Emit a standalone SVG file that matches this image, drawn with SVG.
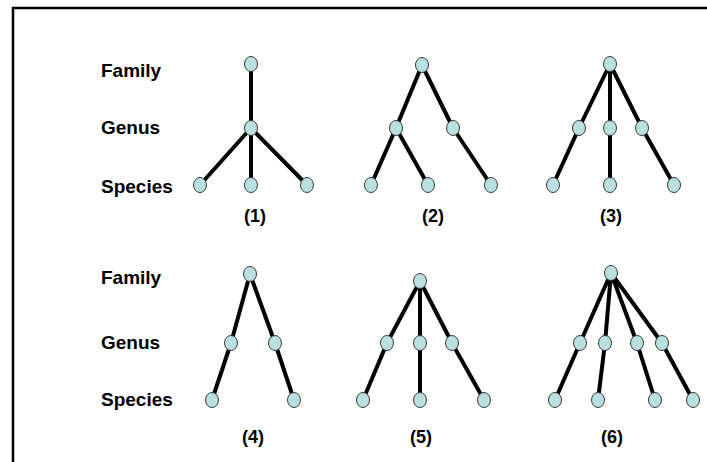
<svg xmlns="http://www.w3.org/2000/svg" width="707" height="462" viewBox="0 0 707 462">
<style>
.lbl{font-family:"Liberation Sans",Arial,sans-serif;font-weight:bold;font-size:19px;fill:#000}
.num{font-family:"Liberation Sans",Arial,sans-serif;font-weight:bold;font-size:18px;fill:#000;text-anchor:middle}
.e{stroke:#000;stroke-width:4;fill:none}
.n{fill:#b9dfe0;stroke:#3a3a3a;stroke-width:1}
</style>
<rect width="707" height="462" fill="#fff"/>
<path d="M13,462 V8 H707" fill="none" stroke="#000" stroke-width="2.5"/>
<g id="row-labels">
<text class="lbl" x="101" y="77">Family</text>
<text class="lbl" x="101" y="134">Genus</text>
<text class="lbl" x="101" y="193">Species</text>
<text class="lbl" x="101" y="284">Family</text>
<text class="lbl" x="101" y="349">Genus</text>
<text class="lbl" x="101" y="406">Species</text>
</g>
<g id="connectors">
<path class="e" d="M251,64 L251,128 M251,128 L200,185 M251,128 L251,185 M251,128 L307,185"/>
<path class="e" d="M422,65 L396,128 M422,65 L453,128 M396,128 L371,185 M396,128 L428,185 M453,128 L491,185"/>
<path class="e" d="M610,64 L579,128 M610,64 L610,128 M610,64 L642,128 M579,128 L553,185 M610,128 L610,185 M642,128 L674,185"/>
<path class="e" d="M250,274 L231,343 M250,274 L275,343 M231,343 L212,400 M275,343 L294,400"/>
<path class="e" d="M420,281 L387,343 M420,281 L420,343 M420,281 L452,343 M387,343 L363,400 M420,343 L420,400 M452,343 L484,400"/>
<path class="e" d="M611,273 L580,343 M611,273 L605,343 M611,273 L637,343 M611,273 L662,343 M580,343 L555,400 M605,343 L598,400 M637,343 L655,400 M662,343 L693,400"/>
</g>
<g id="tree1">
<ellipse class="n" cx="251" cy="64" rx="6.5" ry="7.5"/>
<ellipse class="n" cx="251" cy="128" rx="6.5" ry="7.5"/>
<ellipse class="n" cx="200" cy="185" rx="6.5" ry="7.5"/>
<ellipse class="n" cx="251" cy="185" rx="6.5" ry="7.5"/>
<ellipse class="n" cx="307" cy="185" rx="6.5" ry="7.5"/>
<text class="num" x="255" y="222">(1)</text>
</g>
<g id="tree2">
<ellipse class="n" cx="422" cy="65" rx="6.5" ry="7.5"/>
<ellipse class="n" cx="396" cy="128" rx="6.5" ry="7.5"/>
<ellipse class="n" cx="453" cy="128" rx="6.5" ry="7.5"/>
<ellipse class="n" cx="371" cy="185" rx="6.5" ry="7.5"/>
<ellipse class="n" cx="428" cy="185" rx="6.5" ry="7.5"/>
<ellipse class="n" cx="491" cy="185" rx="6.5" ry="7.5"/>
<text class="num" x="433" y="222">(2)</text>
</g>
<g id="tree3">
<ellipse class="n" cx="610" cy="64" rx="6.5" ry="7.5"/>
<ellipse class="n" cx="579" cy="128" rx="6.5" ry="7.5"/>
<ellipse class="n" cx="610" cy="128" rx="6.5" ry="7.5"/>
<ellipse class="n" cx="642" cy="128" rx="6.5" ry="7.5"/>
<ellipse class="n" cx="553" cy="185" rx="6.5" ry="7.5"/>
<ellipse class="n" cx="610" cy="185" rx="6.5" ry="7.5"/>
<ellipse class="n" cx="674" cy="185" rx="6.5" ry="7.5"/>
<text class="num" x="611" y="222">(3)</text>
</g>
<g id="tree4">
<ellipse class="n" cx="250" cy="274" rx="6.5" ry="7.5"/>
<ellipse class="n" cx="231" cy="343" rx="6.5" ry="7.5"/>
<ellipse class="n" cx="275" cy="343" rx="6.5" ry="7.5"/>
<ellipse class="n" cx="212" cy="400" rx="6.5" ry="7.5"/>
<ellipse class="n" cx="294" cy="400" rx="6.5" ry="7.5"/>
<text class="num" x="253" y="443">(4)</text>
</g>
<g id="tree5">
<ellipse class="n" cx="420" cy="281" rx="6.5" ry="7.5"/>
<ellipse class="n" cx="387" cy="343" rx="6.5" ry="7.5"/>
<ellipse class="n" cx="420" cy="343" rx="6.5" ry="7.5"/>
<ellipse class="n" cx="452" cy="343" rx="6.5" ry="7.5"/>
<ellipse class="n" cx="363" cy="400" rx="6.5" ry="7.5"/>
<ellipse class="n" cx="420" cy="400" rx="6.5" ry="7.5"/>
<ellipse class="n" cx="484" cy="400" rx="6.5" ry="7.5"/>
<text class="num" x="421" y="443">(5)</text>
</g>
<g id="tree6">
<ellipse class="n" cx="611" cy="273" rx="6.5" ry="7.5"/>
<ellipse class="n" cx="580" cy="343" rx="6.5" ry="7.5"/>
<ellipse class="n" cx="605" cy="343" rx="6.5" ry="7.5"/>
<ellipse class="n" cx="637" cy="343" rx="6.5" ry="7.5"/>
<ellipse class="n" cx="662" cy="343" rx="6.5" ry="7.5"/>
<ellipse class="n" cx="555" cy="400" rx="6.5" ry="7.5"/>
<ellipse class="n" cx="598" cy="400" rx="6.5" ry="7.5"/>
<ellipse class="n" cx="655" cy="400" rx="6.5" ry="7.5"/>
<ellipse class="n" cx="693" cy="400" rx="6.5" ry="7.5"/>
<text class="num" x="612" y="443">(6)</text>
</g>
</svg>
